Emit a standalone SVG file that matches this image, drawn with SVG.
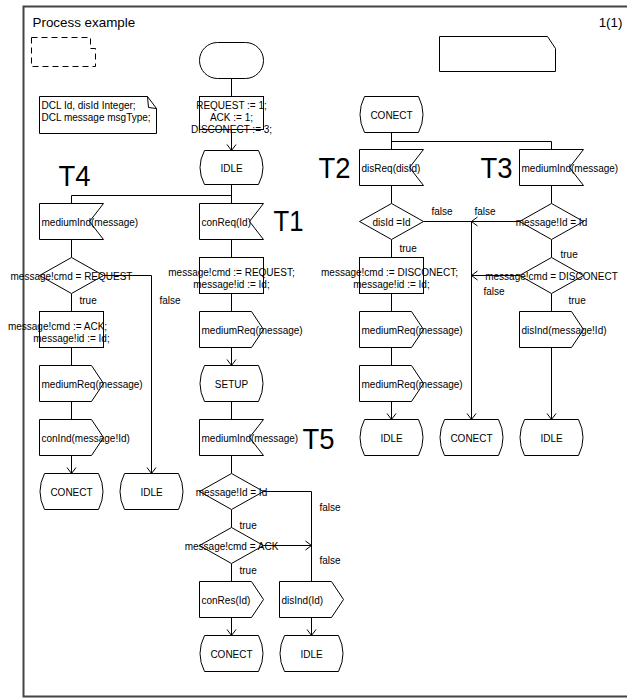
<svg xmlns="http://www.w3.org/2000/svg" width="627" height="698" viewBox="0 0 627 698">
<style>
.n{fill:#fff;stroke:#000;stroke-width:1}
.d{fill:#fff;stroke:#000;stroke-width:1;stroke-dasharray:6,4}
.e{fill:none;stroke:#000;stroke-width:1}
.a{marker-end:url(#ah)}
text{font-family:"Liberation Sans",Arial,sans-serif;font-size:10px;fill:#000}
.c{text-anchor:middle}
.big{font-size:30px}
.ttl{font-size:13.4px}
</style>
<defs>
<marker id="ah" markerWidth="12" markerHeight="12" refX="10" refY="6" orient="auto" markerUnits="userSpaceOnUse"><path d="M4,1.5 L10,6 L4,10.5" fill="none" stroke="#000" stroke-width="1"/></marker>
</defs>
<rect width="627" height="698" fill="#fff"/>
<g transform="translate(0.5 0.5)">
<g id="frame">
<path d="M645,6 H23 V696 H645" fill="none" stroke="#444" stroke-width="2"/>
<text x="32" y="26" class="ttl">Process example</text>
<text x="622" y="26" class="ttl" text-anchor="end">1(1)</text>
</g>
<g id="labels">
<text x="58" y="185" class="big" textLength="32" lengthAdjust="spacingAndGlyphs">T4</text>
<text x="273" y="230" class="big" textLength="30" lengthAdjust="spacingAndGlyphs">T1</text>
<text x="302" y="448" class="big" textLength="32" lengthAdjust="spacingAndGlyphs">T5</text>
<text x="318" y="177" class="big" textLength="32" lengthAdjust="spacingAndGlyphs">T2</text>
<text x="480" y="177" class="big" textLength="32" lengthAdjust="spacingAndGlyphs">T3</text>
</g>
<g id="connectors">
<path class="e" d="M231,78 V96"/>
<path class="e a" d="M231,129 V150"/>
<path class="e" d="M231,184 V203 M71,195 H231 M71,195 V203"/>
<path class="e" d="M231,239 V257 M231,293 V311"/>
<path class="e a" d="M231,347 V365"/>
<path class="e" d="M231,401 V419 M231,455 V473 M231,509 V527 M231,563 V581"/>
<path class="e a" d="M231,617 V635"/>
<path class="e" d="M263,491 H311 V581"/>
<path class="e a" d="M263,545 H311"/>
<path class="e a" d="M311,617 V635"/>
<path class="e" d="M71,239 V257 M71,293 V311 M71,347 V365 M71,401 V419"/>
<path class="e a" d="M71,455 V473"/>
<path class="e a" d="M103,275 H151 V473"/>
<path class="e" d="M391,131 V149 M391,141 H551 V149"/>
<path class="e" d="M391,185 V203 M391,239 V257 M391,293 V311 M391,347 V365"/>
<path class="e a" d="M391,401 V419"/>
<path class="e a" d="M423,221 H471 V419"/>
<path class="e" d="M551,185 V203 M551,239 V257 M551,293 V311"/>
<path class="e a" d="M519,221 H471"/>
<path class="e a" d="M519,275 H471"/>
<path class="e a" d="M551,347 V419"/>
</g>
<g id="textsym"><path class="d" d="M31,37 H90 V48 H95 V66 H31 Z"/></g>
<g id="procref"><path class="n" d="M439,36 H547 L555,48 V71 H439 Z"/></g>
<g id="dcl"><path class="n" d="M39,96 H147 L156,108 V133 H39 Z"/><path class="e" d="M147,96 L148,107 L156,108"/>
<text x="41" y="108">DCL Id, disId Integer;</text><text x="41" y="120">DCL message msgType;</text></g>
<g id="start"><rect class="n" x="199" y="42" width="64" height="36" rx="18"/></g>
<g id="init"><rect class="n" x="199" y="96" width="64" height="33"/>
<text x="231" y="108" class="c">REQUEST := 1;</text><text x="231" y="120" class="c">ACK := 1;</text><text x="231" y="132" class="c">DISCONECT := 3;</text></g>
<g id="idle0"><path class="n" d="M204,150 H258 Q267,167 258,184 H204 Q195,167 204,150 Z"/><text x="231" y="171" class="c">IDLE</text></g>
<g id="t1in"><path class="n" d="M199,203 H263 L249,221 L263,239 H199 Z"/><text x="201" y="225">conReq(Id)</text></g>
<g id="t1task"><rect class="n" x="199" y="257" width="64" height="36"/><text x="231" y="275" class="c">message!cmd := REQUEST;</text><text x="231" y="287" class="c">message!id := Id;</text></g>
<g id="t1out"><path class="n" d="M199,311 H251 L263,329 L251,347 H199 Z"/><text x="201" y="333">mediumReq(message)</text></g>
<g id="setup"><path class="n" d="M204,365 H258 Q267,383 258,401 H204 Q195,383 204,365 Z"/><text x="231" y="387" class="c">SETUP</text></g>
<g id="t5in"><path class="n" d="M199,419 H263 L249,437 L263,455 H199 Z"/><text x="201" y="441">mediumInd(message)</text></g>
<g id="t5dec1"><path class="n" d="M231,473 L263,491 L231,509 L199,491 Z"/><text x="231" y="495" class="c">message!Id = Id</text></g>
<g id="t5dec2"><path class="n" d="M231,527 L263,545 L231,563 L199,545 Z"/><text x="231" y="549" class="c">message!cmd = ACK</text></g>
<g id="t5out1"><path class="n" d="M199,581 H251 L263,599 L251,617 H199 Z"/><text x="201" y="603">conRes(Id)</text></g>
<g id="t5st1"><path class="n" d="M204,635 H258 Q267,653 258,671 H204 Q195,653 204,635 Z"/><text x="231" y="657" class="c">CONECT</text></g>
<g id="t5out2"><path class="n" d="M279,581 H331 L343,599 L331,617 H279 Z"/><text x="281" y="603">disInd(Id)</text></g>
<g id="t5st2"><path class="n" d="M284,635 H338 Q347,653 338,671 H284 Q275,653 284,635 Z"/><text x="311" y="657" class="c">IDLE</text></g>
<g id="t4in"><path class="n" d="M39,203 H103 L89,221 L103,239 H39 Z"/><text x="41" y="225">mediumInd(message)</text></g>
<g id="t4dec"><path class="n" d="M71,257 L103,275 L71,293 L39,275 Z"/><text x="71" y="279" class="c">message!cmd = REQUEST</text></g>
<g id="t4task"><rect class="n" x="39" y="311" width="64" height="36"/><text x="57" y="329" class="c">message!cmd := ACK;</text><text x="71" y="341" class="c">message!id := Id;</text></g>
<g id="t4out1"><path class="n" d="M39,365 H91 L103,383 L91,401 H39 Z"/><text x="41" y="387">mediumReq(message)</text></g>
<g id="t4out2"><path class="n" d="M39,419 H91 L103,437 L91,455 H39 Z"/><text x="41" y="441">conInd(message!Id)</text></g>
<g id="t4st1"><path class="n" d="M44,473 H98 Q107,491 98,509 H44 Q35,491 44,473 Z"/><text x="71" y="495" class="c">CONECT</text></g>
<g id="t4st2"><path class="n" d="M124,473 H178 Q187,491 178,509 H124 Q115,491 124,473 Z"/><text x="151" y="495" class="c">IDLE</text></g>
<g id="conect0"><path class="n" d="M364,96 H418 Q427,114 418,132 H364 Q355,114 364,96 Z"/><text x="391" y="118" class="c">CONECT</text></g>
<g id="t2in"><path class="n" d="M359,149 H423 L409,167 L423,185 H359 Z"/><text x="361" y="171">disReq(disId)</text></g>
<g id="t2dec"><path class="n" d="M391,203 L423,221 L391,239 L359,221 Z"/><text x="391" y="225" class="c">disId =Id</text></g>
<g id="t2task"><rect class="n" x="359" y="257" width="64" height="36"/><text x="389" y="275" class="c">message!cmd := DISCONECT;</text><text x="391" y="287" class="c">message!id := Id;</text></g>
<g id="t2out1"><path class="n" d="M359,311 H411 L423,329 L411,347 H359 Z"/><text x="361" y="333">mediumReq(message)</text></g>
<g id="t2out2"><path class="n" d="M359,365 H411 L423,383 L411,401 H359 Z"/><text x="361" y="387">mediumReq(message)</text></g>
<g id="t2st"><path class="n" d="M364,419 H418 Q427,437 418,455 H364 Q355,437 364,419 Z"/><text x="391" y="441" class="c">IDLE</text></g>
<g id="midst"><path class="n" d="M444,419 H498 Q507,437 498,455 H444 Q435,437 444,419 Z"/><text x="471" y="441" class="c">CONECT</text></g>
<g id="t3in"><path class="n" d="M519,149 H583 L569,167 L583,185 H519 Z"/><text x="521" y="171">mediumInd(message)</text></g>
<g id="t3dec1"><path class="n" d="M551,203 L583,221 L551,239 L519,221 Z"/><text x="551" y="225" class="c">message!Id = Id</text></g>
<g id="t3dec2"><path class="n" d="M551,257 L583,275 L551,293 L519,275 Z"/><text x="551" y="279" class="c">message!cmd = DISCONECT</text></g>
<g id="t3out"><path class="n" d="M519,311 H571 L583,329 L571,347 H519 Z"/><text x="521" y="333">disInd(message!Id)</text></g>
<g id="t3st"><path class="n" d="M524,419 H578 Q587,437 578,455 H524 Q515,437 524,419 Z"/><text x="551" y="441" class="c">IDLE</text></g>
<g id="branchlabels">
<text x="79" y="303">true</text><text x="159" y="303">false</text>
<text x="239" y="528">true</text><text x="319" y="510">false</text>
<text x="239" y="573">true</text><text x="319" y="563">false</text>
<text x="431" y="214">false</text><text x="399" y="251">true</text>
<text x="474" y="214">false</text><text x="560" y="257">true</text>
<text x="483" y="294">false</text><text x="568" y="303">true</text>
</g>
</g>
</svg>
